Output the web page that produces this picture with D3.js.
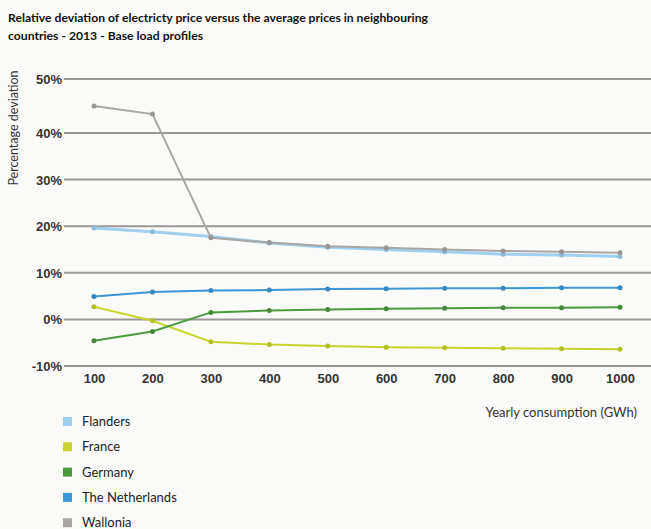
<!DOCTYPE html>
<html>
<head>
<meta charset="utf-8">
<script src="https://cdn.jsdelivr.net/npm/d3@7/dist/d3.min.js"></script>
<style>
  body { margin: 0; background: #fbfbf9; }
  svg { display: block; font-family: Lato, "Open Sans", sans-serif; }
</style>
</head>
<body>
<svg id="chart" width="651" height="529"></svg>
<script>
// consommation annuelle (GWh)
const consumption = [100, 200, 300, 400, 500, 600, 700, 800, 900, 1000];
const yTicks = [-10, 0, 10, 20, 30, 40, 50];

const seriesNames = ["Flanders", "France", "Germany", "The Netherlands", "Wallonia"];
const seriesColors = ["#9fd0ee", "#c9d52c", "#4b9a3e", "#3b97d6", "#aaa6a4"];

const flanders = [19.6, 18.8, 17.8, 16.4, 15.5, 15.0, 14.5, 14.0, 13.8, 13.5];
const france = [2.7, -0.3, -4.8, -5.4, -5.7, -6.0, -6.1, -6.2, -6.3, -6.4];
const germany = [-4.6, -2.6, 1.5, 1.9, 2.1, 2.3, 2.4, 2.5, 2.5, 2.6];
const netherlands = [4.9, 5.9, 6.2, 6.3, 6.5, 6.6, 6.7, 6.7, 6.8, 6.8];
const wallonia = [45.0, 43.5, 17.5, 16.5, 15.7, 15.4, 15.0, 14.7, 14.5, 14.3];

const allValues = [flanders, france, germany, netherlands, wallonia];

const svg = d3.select("#chart");

// titre
const title = svg.append("text")
  .attr("font-weight", "bold")
  .attr("font-size", 12)
  .attr("fill", "#111");
title.append("tspan").attr("x", 8).attr("y", 22)
  .attr("textLength", 420).attr("lengthAdjust", "spacingAndGlyphs")
  .text("Relative deviation of electricty price versus the average prices in neighbouring");
title.append("tspan").attr("x", 8).attr("y", 40)
  .attr("textLength", 195).attr("lengthAdjust", "spacingAndGlyphs")
  .text("countries - 2013 - Base load profiles");

const x = d3.scaleLinear().domain([100, 1000]).range([94, 620]);
const y = d3.scaleLinear().domain([-10, 40, 50]).range([366, 133, 79]);

// lignes de grille
svg.append("g")
  .selectAll("line")
  .data(yTicks)
  .join("line")
  .attr("x1", 64)
  .attr("x2", 651)
  .attr("y1", (d) => y(d))
  .attr("y2", (d) => y(d))
  .style("stroke", "#9a9794")
  .style("stroke-width", 2);

// axe y
const yAxis = svg.append("g")
  .attr("transform", "translate(62,0)")
  .call(d3.axisLeft(y).tickValues(yTicks).tickSize(0).tickPadding(0).tickFormat((d) => d + "%"));
yAxis.select(".domain").remove();
yAxis.selectAll("text").attr("font-size", 13).attr("font-weight", 600).attr("fill", "#333").attr("dy", "0.35em");

// axe x
const xAxis = svg.append("g")
  .attr("transform", "translate(0,374)")
  .call(d3.axisBottom(x).tickValues(consumption).tickSize(0).tickPadding(0).tickFormat(d3.format("d")));
xAxis.select(".domain").remove();
xAxis.selectAll("text").attr("font-size", 13).attr("font-weight", 600).attr("fill", "#333").attr("dy", "0.71em");

svg.append("text")
  .attr("transform", "translate(18,128) rotate(-90)")
  .attr("text-anchor", "middle")
  .attr("font-size", 12.5)
  .attr("fill", "#333")
  .text("Percentage deviation");

svg.append("text")
  .attr("x", 637)
  .attr("y", 417)
  .attr("text-anchor", "end")
  .attr("font-size", 13)
  .attr("fill", "#333")
  .text("Yearly consumption (GWh)");

// courbes
const line = d3.line()
  .x((d, i) => x(consumption[i]))
  .y((d) => y(d));

const drawOrder = [0, 4, 3, 1, 2];
drawOrder.forEach((k) => {
  const g = svg.append("g");
  g.append("path")
    .datum(allValues[k])
    .attr("d", line)
    .attr("fill", "none")
    .style("stroke", seriesColors[k])
    .style("stroke-width", k === 0 ? 3 : 2);
  g.selectAll("circle")
    .data(allValues[k])
    .join("circle")
    .attr("cx", (d, i) => x(consumption[i]))
    .attr("cy", (d) => y(d))
    .attr("r", 2.5)
    .attr("fill", d3.color(seriesColors[k]).darker(0.3));
});

// légende
const legend = svg.append("g")
  .selectAll("g")
  .data(seriesNames)
  .join("g")
  .attr("transform", (d, i) => `translate(63,${417 + i * 25.3})`);
legend.append("rect")
  .attr("width", 9)
  .attr("height", 9)
  .attr("fill", (d, i) => seriesColors[i]);
legend.append("text")
  .attr("x", 19)
  .attr("y", 9)
  .attr("font-size", 13)
  .attr("fill", "#222")
  .text((d) => d);
</script>
</body>
</html>
